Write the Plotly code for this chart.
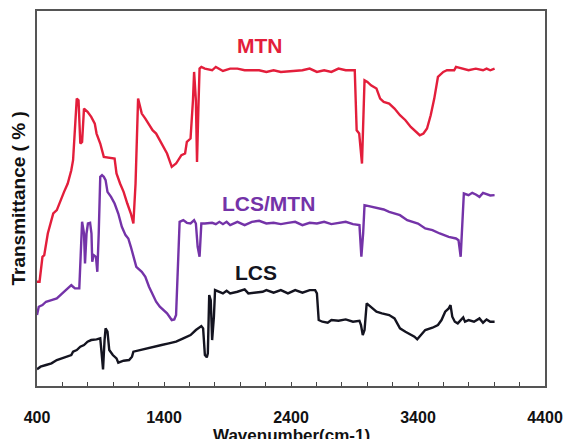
import plotly.graph_objects as go

# ---- data (wavenumber in cm-1, transmittance in arbitrary offset units) ----
mtn_x = [400,420,443,457,485,528,556,585,613,642,670,684,699,713,727,741,755,770,798,827,
         855,869,898,926,1011,1026,1054,1082,1111,1139,1159,1176,1196,1210,1225,1253,1282,1310,1338,1367,
         1395,1424,1461,1495,1537,1566,1580,1609,1628,1637,1651,1660,1671,1680,1694,1722,1779,1808,1864,1921,
         1978,2035,2092,2149,2206,2263,2320,2376,2490,2547,2604,2661,2718,2774,2831,2902,2917,2937,2959,2979,
         3002,3030,3073,3102,3130,3173,3215,3258,3301,3343,3372,3414,3443,3471,3500,3528,3557,3599,3628,3685,
         3699,3741,3798,3855,3912,3940,3969,4003]
mtn_y = [31.3,31.3,38.8,39.3,45.8,51.8,52.8,55.8,58.3,60.8,64.8,67.8,75.8,86.3,85.8,72.8,73.3,83.3,82.3,80.8,
         78.8,75.8,72.8,68.8,68.3,63.8,60.8,58.3,54.8,51.8,48.8,60.8,86.3,83.8,81.8,80.3,78.3,76.8,75.8,73.8,
         71.8,69.8,65.8,66.8,69.3,69.8,73.3,74.3,85.8,94.3,85.8,67.3,83.8,95.3,95.8,95.3,94.8,95.8,94.6,95.3,
         95.3,94.8,94.8,94.8,94.3,94.8,94.3,94.5,94.8,95.3,94.3,94.8,94.3,95.3,94.8,94.8,76.8,75.8,66.8,91.8,
         91.3,90.3,89.3,86.3,85.3,84.8,83.3,81.3,79.8,77.8,76.8,75.3,75.8,77.3,81.3,86.3,92.8,94.3,94.8,94.8,
         95.8,95.3,94.8,95.3,94.8,95.3,94.8,95.3]

lcsmtn_x = [400,414,443,471,514,556,599,627,656,670,684,699,733,741,755,770,778,790,801,818,
            829,835,846,864,875,886,898,912,926,940,955,983,1011,1040,1068,1097,1119,1139,1159,1182,
            1225,1253,1282,1310,1338,1367,1395,1424,1461,1481,1495,1509,1523,1552,1580,1609,1637,1651,1665,1680,
            1694,1722,1779,1808,1836,1864,1893,1921,1978,2035,2092,2149,2206,2263,2320,2376,2433,2490,2547,2604,
            2661,2718,2774,2831,2888,2939,2954,2968,2979,3030,3087,3130,3173,3215,3258,3315,3357,3400,3457,3514,
            3571,3642,3699,3719,3736,3747,3761,3798,3827,3855,3884,3912,3940,3969,4003]
lcsmtn_y = [21.3,23.8,24.3,25.3,25.8,26.3,27.8,28.8,29.8,30.3,29.8,29.3,29.3,35.8,49.3,45.8,36.8,45.8,48.8,49.0,
            45.8,37.3,39.3,38.8,34.3,45.8,62.8,63.3,62.8,61.8,58.3,56.8,54.8,51.8,47.8,45.3,44.3,41.8,38.8,35.8,
            34.3,32.8,29.8,27.3,25.3,23.8,22.8,21.8,19.8,20.0,21.3,35.8,49.3,49.8,49.0,48.8,49.8,48.8,41.8,38.8,
            48.8,48.8,49.0,48.6,49.3,48.6,49.3,48.3,49.3,48.3,49.3,49.6,48.8,49.0,48.6,49.0,49.3,48.3,49.0,48.8,
            49.3,48.6,49.0,49.3,48.6,48.3,38.8,45.8,54.3,53.8,53.3,53.0,52.3,51.8,51.3,49.8,49.3,48.8,47.3,46.8,
            45.8,44.8,44.3,43.8,38.8,47.8,57.8,57.3,58.0,57.5,56.8,58.0,57.5,57.2,57.3]

lcs_x = [400,428,471,514,556,599,642,670,684,713,741,770,798,827,869,898,909,920,932,940,
         955,969,997,1026,1040,1082,1125,1148,1159,1210,1267,1324,1381,1438,1495,1552,1609,1651,1694,1708,
         1722,1737,1745,1756,1768,1779,1793,1802,1836,1864,1893,1921,1978,2035,2064,2120,2177,2206,2263,2320,
         2376,2433,2490,2547,2590,2604,2618,2647,2689,2718,2774,2831,2888,2939,2951,2965,2979,2996,3030,3073,
         3116,3173,3215,3258,3301,3343,3372,3394,3414,3457,3514,3557,3585,3614,3642,3656,3670,3690,3713,3756,
         3770,3798,3841,3884,3912,3940,3969,4003]
lcs_y = [5.0,5.8,6.3,6.8,7.8,8.3,8.8,9.3,10.3,10.8,11.8,12.3,13.3,13.8,14.0,14.3,9.8,5.0,13.8,17.3,
         16.3,10.8,9.3,8.3,7.0,7.6,7.8,8.8,10.3,10.8,11.3,11.8,12.3,12.8,13.3,14.3,15.3,16.8,18.0,17.3,
         9.3,8.6,9.8,27.3,25.8,13.8,20.8,28.8,28.3,27.8,28.6,27.8,28.3,29.0,27.8,28.0,28.3,28.8,28.0,28.8,
         27.8,28.8,28.0,28.8,28.8,27.8,19.8,19.3,19.0,19.8,19.6,20.0,19.3,19.6,18.3,15.3,16.8,24.8,23.8,22.3,
         21.8,21.3,20.3,17.3,16.3,15.3,14.8,14.0,14.8,16.8,17.5,18.3,19.8,22.3,23.3,24.3,20.8,19.3,18.8,20.6,
         19.3,19.8,19.3,20.3,19.0,20.0,19.3,19.3]

series_names = ["MTN", "LCS/MTN", "LCS"]
series_colors = ["#E31E3B", "#7433A8", "#141420"]
label_x = [2155, 2226, 2123]
label_y = [102.3, 54.9, 34.0]

x_tickvals = [400, 1400, 2400, 3400, 4400]

FONT = "Liberation Sans, Arial, Helvetica, sans-serif"

fig = go.Figure()
for xs, ys, name, col in zip([mtn_x, lcsmtn_x, lcs_x], [mtn_y, lcsmtn_y, lcs_y],
                             series_names, series_colors):
    fig.add_trace(go.Scatter(x=xs, y=ys, mode="lines", name=name,
                             line=dict(color=col, width=2.4), showlegend=False))

for name, col, lx, ly in zip(series_names, series_colors, label_x, label_y):
    fig.add_annotation(x=lx, y=ly, xref="x", yref="y", text=name, showarrow=False,
                       font=dict(family=FONT, size=21, color=col, weight="bold"))

fig.add_annotation(xref="paper", yref="paper", x=0.5, y=0, yanchor="top", yshift=-38,
                   text="Wavenumber(cm-1)", showarrow=False,
                   font=dict(family=FONT, size=17, color="#111111", weight="bold"))
fig.add_annotation(xref="paper", yref="paper", x=0, y=0.5, xanchor="center", xshift=-19,
                   text="Transmittance ( % )", textangle=-90, showarrow=False,
                   font=dict(family=FONT, size=19, color="#111111", weight="bold"))

fig.update_layout(
    width=566, height=439,
    margin=dict(l=37, r=21, t=11, b=53, autoexpand=False),
    paper_bgcolor="white", plot_bgcolor="white",
    xaxis=dict(range=[400, 4400], tickvals=x_tickvals, ticks="inside", ticklen=4,
               tickcolor="#444444", tickwidth=1.2,
               minor=dict(dtick=200, tick0=400, ticks="inside", ticklen=4,
                          tickcolor="#444444", tickwidth=1.2),
               showline=True, linecolor="#555555", linewidth=1.5, mirror=True,
               showgrid=False, zeroline=False, ticklabelstandoff=16,
               tickfont=dict(family=FONT, size=16, color="#111111", weight="bold")),
    yaxis=dict(range=[0, 112.6], showticklabels=False, ticks="",
               showline=True, linecolor="#555555", linewidth=1.5, mirror=True,
               showgrid=False, zeroline=False),
)

fig.write_html("out.html", config={"displayModeBar": False},
               post_script="document.body.style.margin='0';document.body.style.padding='0';")
